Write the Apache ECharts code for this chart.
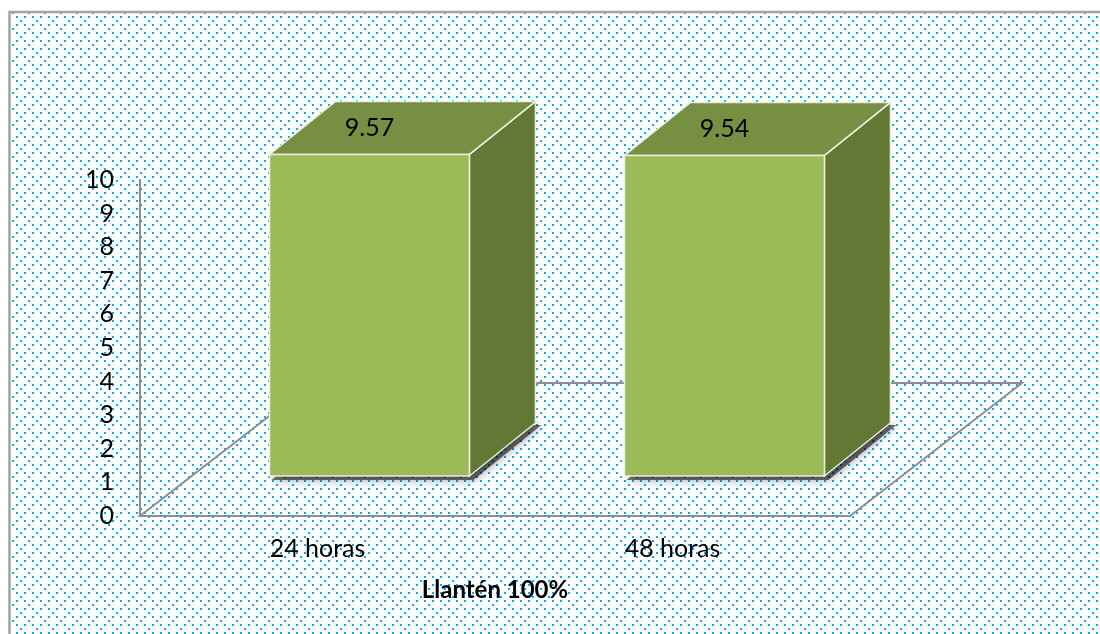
<!DOCTYPE html>
<html>
<head>
<meta charset="utf-8">
<script src="https://cdn.jsdelivr.net/npm/echarts@6/dist/echarts.min.js"></script>
<style>
  html, body { margin: 0; padding: 0; background: #fff; }
  #chart { width: 1100px; height: 634px; }
</style>
</head>
<body>
<div id="chart"></div>
<script>
// ---- data ----
const categories = ['24 horas', '48 horas'];
const values = [9.57, 9.54];
const valueLabels = ['9.57', '9.54'];
const yMin = 0;
const yMax = 10;
const yInterval = 1;
const axisTitle = 'Llantén 100%';

// ---- dotted background pattern ----
function makePattern() {
  const c = document.createElement('canvas');
  c.width = 16; c.height = 16;
  const ctx = c.getContext('2d');
  ctx.fillStyle = '#ffffff';
  ctx.fillRect(0, 0, 16, 16);
  ctx.fillStyle = '#00B0F0';
  [[0,0],[8,0],[4,4],[0,8],[8,8],[12,12]].forEach(p => ctx.fillRect(p[0], p[1], 2, 2));
  return c;
}
const patternCanvas = makePattern();

const FONT = 'Lato, "Open Sans", sans-serif';
// 3D geometry (pixel offsets)
const FLOOR_DX = 172, FLOOR_DY = -133;
const FRONT_DX = 52, FRONT_DY = -40;
const DEPTH_DX = 66, DEPTH_DY = -53;

function renderFloor(params, api) {
  const cs = params.coordSys;
  const y0 = cs.y + cs.height;
  return {
    type: 'polygon',
    shape: { points: [
      [cs.x, y0], [cs.x + cs.width, y0],
      [cs.x + cs.width + FLOOR_DX, y0 + FLOOR_DY], [cs.x + FLOOR_DX, y0 + FLOOR_DY]
    ] },
    style: { fill: null, stroke: '#8E8E8E', lineWidth: 2 },
    silent: true
  };
}

function renderBar(params, api) {
  const xi = api.value(0);
  const v = api.value(1);
  const base = api.coord([xi, 0]);
  const top = api.coord([xi, v]);
  const band = api.size([1, 0])[0];
  const w = band * 0.563;
  const L = base[0] - w / 2 + FRONT_DX;
  const R = base[0] + w / 2 + FRONT_DX;
  const B = base[1] + FRONT_DY;
  const T = top[1] + FRONT_DY;
  const edge = '#E9EFDC';
  return {
    type: 'group',
    children: [
      { type: 'polygon', shape: { points: [[L + 2, B + 4], [R + 4, B + 4], [R + DEPTH_DX + 6, B + DEPTH_DY + 2], [L + DEPTH_DX, B + DEPTH_DY]] },
        style: { fill: 'rgba(0,0,0,0.55)', shadowBlur: 10, shadowColor: 'rgba(0,0,0,0.7)' } },
      { type: 'polygon', shape: { points: [[R, B], [R + DEPTH_DX, B + DEPTH_DY], [R + DEPTH_DX, T + DEPTH_DY], [R, T]] },
        style: { fill: '#637835', stroke: edge, lineWidth: 1.5 } },
      { type: 'polygon', shape: { points: [[L, T], [R, T], [R + DEPTH_DX, T + DEPTH_DY], [L + DEPTH_DX, T + DEPTH_DY]] },
        style: { fill: '#778F42', stroke: edge, lineWidth: 1.5 } },
      { type: 'rect', shape: { x: L, y: T, width: R - L, height: B - T },
        style: { fill: '#9BBB59', stroke: edge, lineWidth: 1.5 } },
      { type: 'text', x: (L + R) / 2, y: T - 27,
        style: { text: valueLabels[params.dataIndex], fill: '#000', font: '25px ' + FONT, align: 'center', verticalAlign: 'middle' } }
    ]
  };
}

const chart = echarts.init(document.getElementById('chart'), null, { renderer: 'canvas' });
chart.setOption({
  animation: false,
  backgroundColor: '#ffffff',
  graphic: [{
    type: 'rect', z: -10, silent: true,
    shape: { x: 9.5, y: 12, width: 1200, height: 700 },
    style: { fill: { image: patternCanvas, repeat: 'repeat' }, stroke: '#A3A3A3', lineWidth: 2.5 }
  }],
  grid: { left: 140, right: 250, top: 180, bottom: 118, containLabel: false },
  xAxis: {
    type: 'category',
    data: categories,
    boundaryGap: true,
    axisLine: { show: true, lineStyle: { color: '#8E8E8E', width: 2 } },
    axisTick: { show: false },
    axisLabel: { color: '#000', fontSize: 25, fontFamily: FONT, margin: 20 },
    name: axisTitle,
    nameLocation: 'middle',
    nameGap: 62,
    nameTextStyle: { color: '#000', fontSize: 24, fontWeight: 'bold', fontFamily: FONT }
  },
  yAxis: {
    type: 'value',
    min: yMin, max: yMax, interval: yInterval,
    axisLine: { show: true, lineStyle: { color: '#8E8E8E', width: 2 } },
    axisTick: { show: false },
    splitLine: { show: false },
    axisLabel: { color: '#000', fontSize: 25, fontFamily: FONT, margin: 26 }
  },
  series: [
    { type: 'custom', renderItem: renderFloor, data: [[0, 0]], z: 1, silent: true },
    { type: 'custom', renderItem: renderBar, data: categories.map((c, i) => [i, values[i]]), z: 3 }
  ]
});
</script>
</body>
</html>
